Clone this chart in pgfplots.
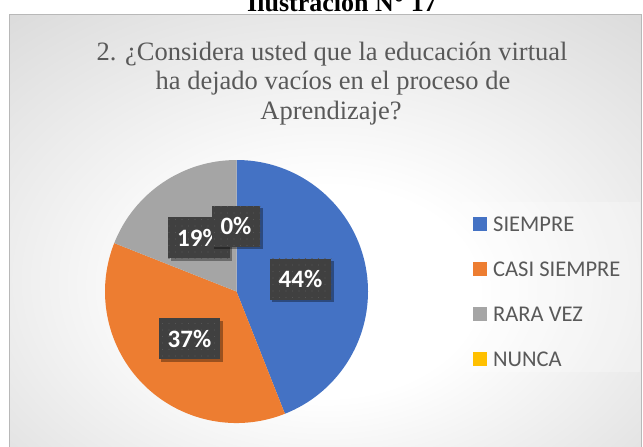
\documentclass[border=0pt]{standalone}
\usepackage{pgfplots}
\pgfplotsset{compat=1.18}
\usepackage{pgfplotstable}
\usepackage{fontspec}
\setmainfont{Liberation Serif}
\newfontfamily\carlito{Carlito}
\usetikzlibrary{shadows,patterns.meta}
\definecolor{cBlue}{HTML}{4472C4}
\definecolor{cOrange}{HTML}{ED7D31}
\definecolor{cGray}{HTML}{A5A5A5}
\definecolor{cYellow}{HTML}{FFC000}
\definecolor{txtGray}{HTML}{595959}
\definecolor{lblBox}{HTML}{404040}
\definecolor{lblDot}{HTML}{565656}
\definecolor{bgEdge}{HTML}{C2C2C2}
\definecolor{bgMid}{HTML}{D6D6D6}
\pgfdeclareradialshading{bgshade}{\pgfpoint{0bp}{-8bp}}{color(0bp)=(white); color(12bp)=(white); color(42bp)=(bgMid); color(72bp)=(bgEdge)}

\pgfplotstableread{
idx value
0 44
1 37
2 19
3 0
}\piedata

\tikzset{lbl/.style={fill=lblBox, text=white, font=\carlito\bfseries\fontsize{25bp}{30bp}\selectfont,
  minimum height=41bp, inner xsep=9bp, inner ysep=0bp,
  drop shadow={shadow xshift=2.5bp, shadow yshift=-2.5bp, opacity=0.35, fill=black},
  postaction={pattern={Dots[distance=6.5bp, radius=0.7bp]}, pattern color=lblDot}},
  leg/.style={anchor=base west, text=txtGray, font=\carlito\fontsize{22.5bp}{27bp}\selectfont, inner sep=0pt},
  ttl/.style={anchor=base, text=txtGray, font=\fontsize{26.5bp}{32bp}\selectfont, inner sep=0pt}}

\begin{document}
\begin{tikzpicture}
\path[use as bounding box] (0,0) rectangle (643bp,447bp);
\pgfplotstablegetelem{0}{value}\of\piedata \pgfmathtruncatemacro\vA{\pgfplotsretval}
\pgfplotstablegetelem{1}{value}\of\piedata \pgfmathtruncatemacro\vB{\pgfplotsretval}
\pgfplotstablegetelem{2}{value}\of\piedata \pgfmathtruncatemacro\vC{\pgfplotsretval}
\pgfplotstablegetelem{3}{value}\of\piedata \pgfmathtruncatemacro\vD{\pgfplotsretval}
\pgfmathsetmacro\aA{90-3.6*\vA}
\pgfmathsetmacro\aB{\aA-3.6*\vB}
\pgfmathsetmacro\aC{\aB-3.6*\vC}
\begin{axis}[at={(0,0)}, anchor=south west, scale only axis, width=643bp, height=447bp,
  xmin=0, xmax=643, ymin=0, ymax=447, y dir=reverse, hide axis, clip=false]
% chart area
\shade[shading=bgshade] (axis cs:9.5,14.5) rectangle (axis cs:641,452);
\draw[color=black!28, line width=0.9bp] (axis cs:9.5,452) -- (axis cs:9.5,14.5) -- (axis cs:641,14.5) -- (axis cs:641,452);
% header
\node[anchor=base, font=\bfseries\fontsize{26bp}{30bp}\selectfont, inner sep=0pt] at (axis cs:342,12) {Ilustración N° 17};
% title
\node[ttl] at (axis cs:332,61) {2. ¿Considera usted que la educación virtual};
\node[ttl] at (axis cs:333,90) {ha dejado vacíos en el proceso de};
\node[ttl] at (axis cs:331,119) {Aprendizaje?};
% pie
\fill[cBlue] (axis cs:236.5,291.5) -- ++(90:131.5bp) arc[start angle=90, end angle=\aA, radius=131.5bp] -- cycle;
\fill[cOrange] (axis cs:236.5,291.5) -- ++(\aA:131.5bp) arc[start angle=\aA, end angle=\aB, radius=131.5bp] -- cycle;
\fill[cGray] (axis cs:236.5,291.5) -- ++(\aB:131.5bp) arc[start angle=\aB, end angle=\aC, radius=131.5bp] -- cycle;
% labels
\node[lbl] at (axis cs:300.5,279) {\vA\%};
\node[lbl] at (axis cs:189.5,338.5) {\vB\%};
\node[lbl] at (axis cs:199,237.5) {\vC\%};
\node[lbl] at (axis cs:236,226) {\vD\%};
% legend
\fill[white, opacity=0.25] (axis cs:462,202) rectangle (axis cs:640,372);
\fill[cBlue] (axis cs:473,217) rectangle (axis cs:487,231);
\node[leg] at (axis cs:493,231) {SIEMPRE};
\fill[cOrange] (axis cs:473,262) rectangle (axis cs:487,276);
\node[leg] at (axis cs:493,276) {CASI SIEMPRE};
\fill[cGray] (axis cs:473,307) rectangle (axis cs:487,321);
\node[leg] at (axis cs:493,321) {RARA VEZ};
\fill[cYellow] (axis cs:473,352) rectangle (axis cs:487,366);
\node[leg] at (axis cs:493,366) {NUNCA};
\end{axis}
\end{tikzpicture}
\end{document}
